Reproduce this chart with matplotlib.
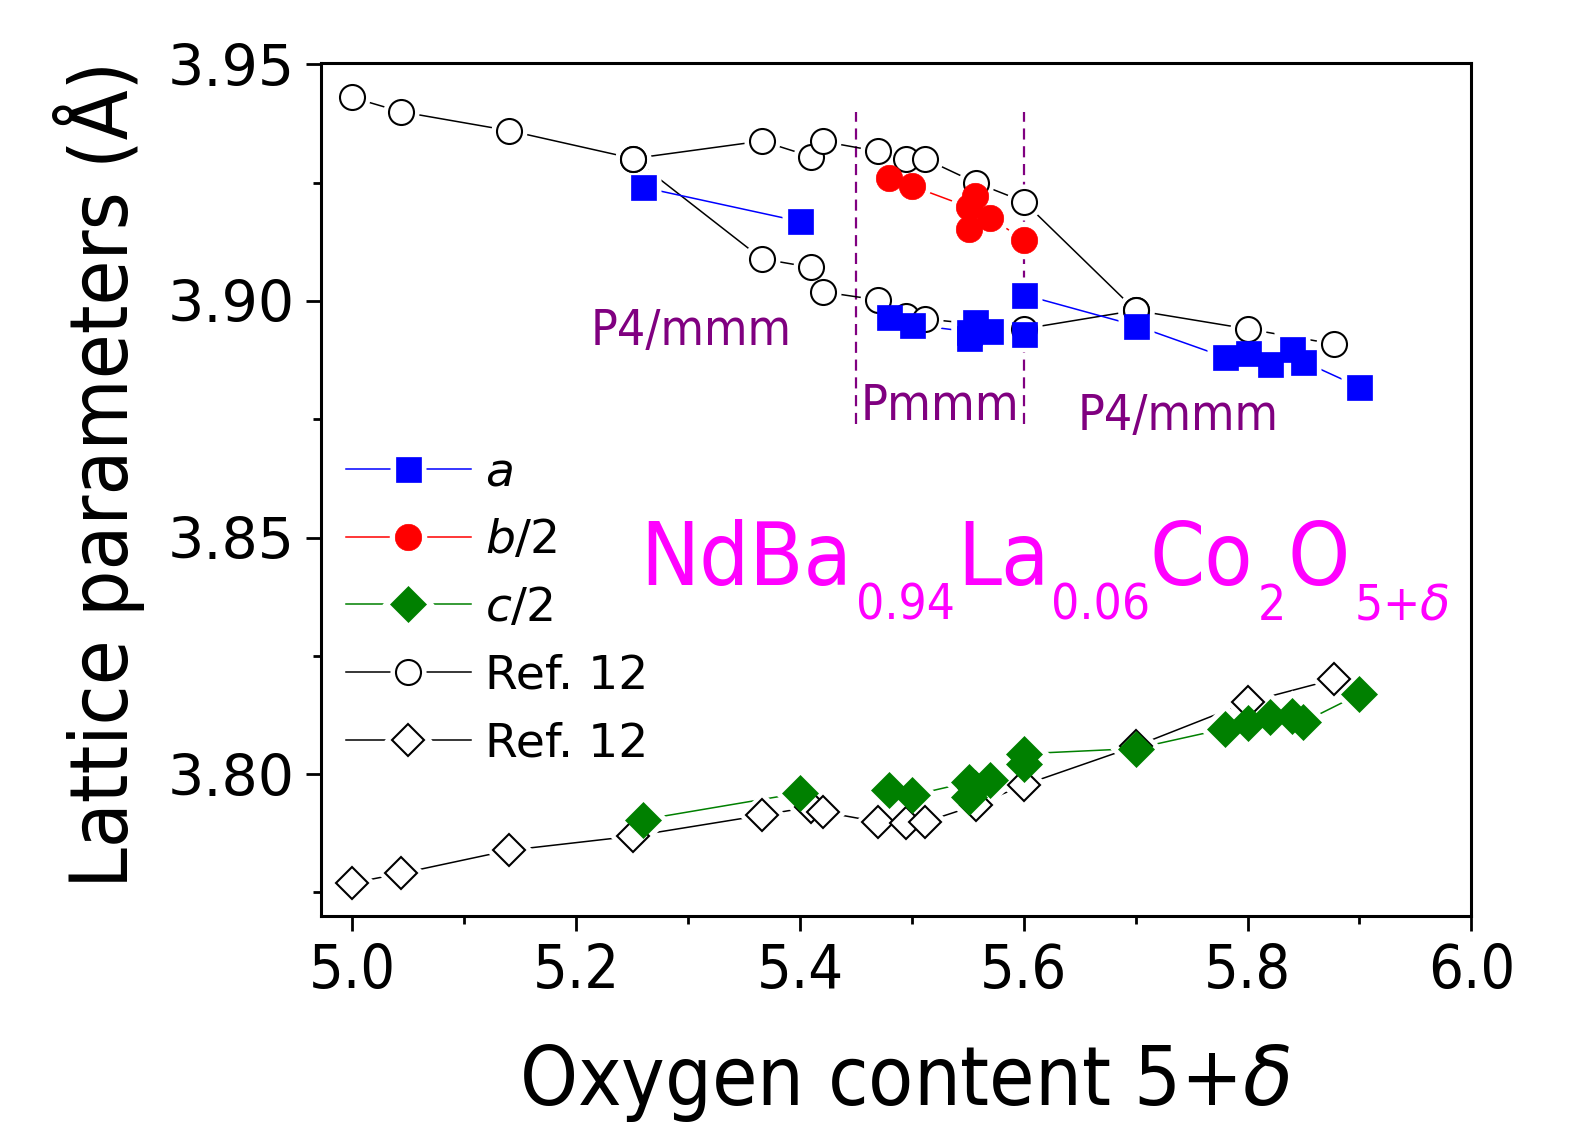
import os
import numpy as np
import matplotlib
matplotlib.use("Agg")
import matplotlib.pyplot as plt
from matplotlib import font_manager
from matplotlib.font_manager import FontProperties
from matplotlib.legend_handler import HandlerTuple

# ─────────────────────────────────────────────────────────────
# Data
# ─────────────────────────────────────────────────────────────
# Ref. 12 – open circles (upper branch / tetragonal) and lower (a) branch
x_ref      = [5.000, 5.043, 5.140, 5.251, 5.366, 5.410, 5.421, 5.470,
              5.495, 5.512, 5.557, 5.600, 5.700, 5.800, 5.877]
ref_upper  = [3.9430, 3.9400, 3.9360, 3.9301, 3.9338, 3.9305, 3.9337, 3.9316,
              3.9300, 3.9300, 3.9250, 3.9210, 3.8980, 3.8941, 3.8909]
x_ref_low  = [5.251, 5.366, 5.410, 5.421, 5.470, 5.495, 5.512, 5.600, 5.700]
ref_lower  = [3.9301, 3.9089, 3.9071, 3.9019, 3.9002, 3.8969, 3.8962, 3.8941, 3.8980]
# Ref. 12 – open diamonds (c/2)
ref_c      = [3.7770, 3.7790, 3.7839, 3.7869, 3.7913, 3.7931, 3.7920, 3.7899,
              3.7897, 3.7899, 3.7934, 3.7977, 3.8059, 3.8152, 3.8200]

# this work, split by phase region
x_low   = [5.26, 5.40]                                        # P4/mmm, low delta
a_low   = [3.9240, 3.9168]
c_low   = [3.7904, 3.7960]
x_pmmm  = [5.48, 5.50, 5.551, 5.551, 5.556, 5.57, 5.60]      # Pmmm
a_pmmm  = [3.8967, 3.8950, 3.8935, 3.8922, 3.8955, 3.8937, 3.8930]
b_pmmm  = [3.9260, 3.9243, 3.9198, 3.9152, 3.9222, 3.9176, 3.9129]
c_pmmm  = [3.7967, 3.7955, 3.7983, 3.7952, 3.7970, 3.7987, 3.8022]
x_high  = [5.60, 5.70, 5.78, 5.80, 5.82, 5.84, 5.85, 5.90]  # P4/mmm, high delta
a_high  = [3.9013, 3.8948, 3.8881, 3.8891, 3.8867, 3.8899, 3.8872, 3.8818]
c_high  = [3.8043, 3.8054, 3.8096, 3.8107, 3.8121, 3.8122, 3.8110, 3.8169]

phase_bounds = [5.45, 5.60]

# formula pieces: (text, is_subscript)
formula = [("NdBa", False), ("0.94", True), ("La", False), ("0.06", True),
           ("Co", False), ("2", True), ("O", False), (r"5+$\delta$", True)]

# ─────────────────────────────────────────────────────────────
# fonts – look for a condensed face, fall back to DejaVu Sans
# ─────────────────────────────────────────────────────────────
plt.rcParams["font.family"] = ["DejaVu Sans"]
plt.rcParams["mathtext.fontset"] = "dejavusans"

want = ["DejaVuSansCondensed.ttf", "NotoSans-Condensed.ttf",
        "LiberationSansNarrow-Regular.ttf", "RobotoCondensed-Regular.ttf",
        "NotoSans-SemiCondensed.ttf", "OpenSans-CondensedRegular.ttf"]
files = {os.path.basename(p): p for p in font_manager.findSystemFonts()}
narrow_path = next((files[w] for w in want if w in files), None)
fp_narrow = FontProperties(fname=narrow_path) if narrow_path else FontProperties(family="DejaVu Sans")

W, H = 1582, 1124
fig = plt.figure(figsize=(W / 100, H / 100), dpi=100)
ax = fig.add_axes([0.203, 0.185, 0.727, 0.759])
renderer = fig.canvas.get_renderer()


def fit(txt, target, use_height=False):
    # scale font size so the text spans target pixels
    bb = txt.get_window_extent(renderer=renderer)
    cur = bb.height if use_height else bb.width
    txt.set_fontsize(txt.get_fontsize() * target / cur)


LW = 1.1
HALO = 8      # extra size of the white disc that cuts the line near markers


def series(x, y, color, marker, ms, face, mew=1.5, z=4):
    ln, = ax.plot(x, y, "-", color=color, lw=LW, zorder=2)
    ha, = ax.plot(x, y, linestyle="none", marker=marker, ms=ms + HALO,
                  mfc="white", mec="none", zorder=3)
    mk, = ax.plot(x, y, linestyle="none", marker=marker, ms=ms,
                  mfc=face, mec=color if face != "white" else "black",
                  mew=mew, zorder=z)
    return (ln, ha, mk)


# Ref. 12 first (underneath)
h_rc = series(x_ref, ref_upper, "black", "o", 18, "white")
series(x_ref_low, ref_lower, "black", "o", 18, "white")
h_rd = series(x_ref, ref_c, "black", "D", 16, "white")

# this work
h_a = series(x_low, a_low, "blue", "s", 18, "blue", mew=0.5, z=5)
series(x_pmmm, a_pmmm, "blue", "s", 18, "blue", mew=0.5, z=5)
series(x_high, a_high, "blue", "s", 18, "blue", mew=0.5, z=5)
h_b = series(x_pmmm, b_pmmm, "red", "o", 19, "red", mew=0.5, z=5)
h_c = series(x_low, c_low, "green", "D", 18, "green", mew=0.5, z=5)
series(x_pmmm + x_high, c_pmmm + c_high, "green", "D", 18, "green", mew=0.5, z=5)

# phase boundaries
for xb in phase_bounds:
    ax.plot([xb, xb], [3.874, 3.940], color="#800080", lw=1.6,
            linestyle=(0, (5, 3)), zorder=1)

t1 = ax.text(5.213, 3.8937, "P4/mmm", color="#800080", fontsize=35,
             fontproperties=fp_narrow, ha="left", va="center")
t2 = ax.text(5.525, 3.8779, "Pmmm", color="#800080", fontsize=35,
             fontproperties=fp_narrow, ha="center", va="center")
t3 = ax.text(5.648, 3.8757, "P4/mmm", color="#800080", fontsize=35,
             fontproperties=fp_narrow, ha="left", va="center")
for t, w in [(t1, 202), (t2, 159), (t3, 202)]:
    t.set_fontsize(35)
    fit(t, w)

# formula, each piece placed at its left edge (figure pixels)
piece_left = [640, 856, 957, 1051, 1150, 1258, 1287, 1354]
probe_main = fig.text(0, 0, "NdBa", fontproperties=fp_narrow, fontsize=60)
fit(probe_main, 212)
size_main = probe_main.get_fontsize()
probe_sub = fig.text(0, 0, "0.94", fontproperties=fp_narrow, fontsize=36)
fit(probe_sub, 99)
size_sub = probe_sub.get_fontsize()
probe_main.remove()
probe_sub.remove()
for (s, is_sub), xl in zip(formula, piece_left):
    yb = 620 if is_sub else 585
    fig.text(xl / W, 1 - yb / H, s, color="#FF00FF",
             fontproperties=fp_narrow,
             fontsize=size_sub if is_sub else size_main,
             ha="left", va="baseline")

# legend
leg = ax.legend([h_a, h_b, h_c, h_rc, h_rd],
                [r"$a$", r"$b$/2", r"$c$/2", "Ref. 12", "Ref. 12"],
                handler_map={tuple: HandlerTuple(ndivide=1, pad=0)},
                loc="upper left", bbox_to_anchor=(0.005, 0.568),
                frameon=False, fontsize=34, handlelength=2.65,
                handletextpad=0.3, labelspacing=0.48, borderaxespad=0)

# axes
ax.set_xlim(4.972, 6.0)
ax.set_ylim(3.77, 3.9503)
ax.set_xticks([5.0, 5.2, 5.4, 5.6, 5.8, 6.0])
ax.set_xticks(np.arange(5.1, 6.0, 0.2), minor=True)
ax.set_yticks([3.80, 3.85, 3.90, 3.95])
ax.set_yticks([3.775, 3.825, 3.875, 3.925], minor=True)
ax.set_yticklabels(["3.80", "3.85", "3.90", "3.95"], fontsize=41)
ax.set_xticklabels(["5.0", "5.2", "5.4", "5.6", "5.8", "6.0"],
                   fontproperties=fp_narrow, fontsize=46)
ax.tick_params(which="major", direction="out", length=11, width=2, pad=8)
ax.tick_params(which="minor", direction="out", length=6, width=2)
for s in ax.spines.values():
    s.set_linewidth(2.2)

xl = ax.set_xlabel(r"Oxygen content 5+$\delta$", fontproperties=fp_narrow,
                   fontsize=60, va="baseline")
yl = ax.set_ylabel("Lattice parameters (Å)", fontproperties=fp_narrow,
                   fontsize=60, va="center")
fit(xl, 772)
fit(yl, 827, use_height=True)
xt = ax.get_xticklabels()
fit(xt[0], 87)
for t in xt[1:]:
    t.set_fontsize(xt[0].get_fontsize())
ax.xaxis.set_label_coords(0.508, -0.2215)
ax.yaxis.set_label_coords(-0.193, 0.518)

fig.savefig("out.png", dpi=100)
